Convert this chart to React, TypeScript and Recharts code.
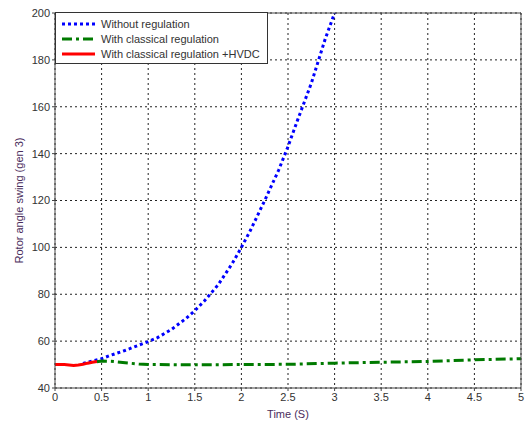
import { LineChart, Line, XAxis, YAxis, CartesianGrid } from 'recharts'

// time (s) / rotor angle (deg)
const tNoReg = [0.3, 0.4, 0.5, 0.6, 0.75, 0.9, 1.0, 1.1, 1.25, 1.4, 1.5, 1.6, 1.75, 1.9, 2.0, 2.1, 2.25, 2.4, 2.5, 2.6, 2.75, 2.9, 3.0]
const yNoReg = [50.5, 51.5, 52.5, 54, 56, 58.3, 59.8, 61.5, 65, 69.5, 73, 77, 84, 93, 100, 107.5, 120, 133, 143, 154, 170, 189, 200]

const tClassic = [0.45, 0.5, 0.6, 0.7, 0.8, 0.9, 1.0, 1.5, 2.0, 2.5, 3.0, 3.5, 4.0, 4.5, 5.0]
const yClassic = [51.2, 51.5, 51.4, 51, 50.6, 50.2, 50, 49.9, 50, 50.1, 50.6, 51, 51.3, 52, 52.5]

const tHvdc = [0, 0.1, 0.2, 0.25, 0.3, 0.35, 0.4, 0.45]
const yHvdc = [50, 50, 49.6, 49.8, 50.1, 50.6, 51, 51.3]

const xTicks = [0, 0.5, 1, 1.5, 2, 2.5, 3, 3.5, 4, 4.5, 5]
const yTicks = [40, 60, 80, 100, 120, 140, 160, 180, 200]

const seriesNames = ['Without regulation', 'With classical regulation', 'With classical regulation +HVDC']

const zip = (t: number[], y: number[]) => t.map((x, i) => ({ t: x, v: y[i] }))

const noReg = zip(tNoReg, yNoReg)
const classic = zip(tClassic, yClassic)
const hvdc = zip(tHvdc, yHvdc)

const font = 'Liberation Sans, Arial, sans-serif'
const tickStyle = { fontSize: 11, fill: '#333', fontFamily: font }
const labelColor = '#4a2d5c'

const legendItems = [
  { name: seriesNames[0], color: '#0000ff', dash: '3 3' },
  { name: seriesNames[1], color: '#007a00', dash: '10 4 3 4' },
  { name: seriesNames[2], color: '#ff0000', dash: undefined },
]

function LegendBox() {
  return (
    <div style={{ position: 'absolute', left: 55, top: 12, width: 213, height: 52, border: '1px solid #333', background: '#fff', boxSizing: 'border-box', paddingTop: 3 }}>
      {legendItems.map((it) => (
        <div key={it.name} style={{ display: 'flex', alignItems: 'center', height: 15, fontSize: 11, fontFamily: font, color: '#333' }}>
          <svg width={39} height={10} style={{ marginLeft: 6 }}>
            <line x1={0} y1={5} x2={33} y2={5} stroke={it.color} strokeWidth={3} strokeDasharray={it.dash} />
          </svg>
          <span>{it.name}</span>
        </div>
      ))}
    </div>
  )
}

export default function App() {
  return (
    <div style={{ position: 'absolute', left: 0, top: 0, width: 529, height: 421, background: '#fff' }}>
      <LineChart width={529} height={421} margin={{ top: 12, right: 7, left: 0, bottom: 0 }}>
        <CartesianGrid xAxisId="b" yAxisId="l" stroke="#222" strokeDasharray="2 3" strokeWidth={1} />
        <XAxis
          xAxisId="b" type="number" dataKey="t" domain={[0, 5]} ticks={xTicks} allowDataOverflow
          tick={tickStyle} tickSize={3} stroke="#444" height={33}
          label={{ value: 'Time (S)', position: 'insideBottom', offset: 3, fill: labelColor, fontSize: 11, fontFamily: font }}
        />
        <XAxis xAxisId="top" orientation="top" type="number" domain={[0, 5]} tick={false} tickLine={false} stroke="#444" height={1} />
        <YAxis
          yAxisId="l" type="number" domain={[40, 200]} ticks={yTicks} allowDataOverflow
          tick={tickStyle} tickSize={3} stroke="#444" width={55}
          label={{ value: 'Rotor angle swing (gen 3)', angle: -90, position: 'insideLeft', offset: 19, fill: labelColor, fontSize: 11, fontFamily: font, style: { textAnchor: 'middle' } }}
        />
        <YAxis yAxisId="r" orientation="right" type="number" domain={[40, 200]} tick={false} tickLine={false} stroke="#444" width={1} />
        <Line xAxisId="b" yAxisId="l" data={noReg} dataKey="v" name={seriesNames[0]} stroke="#0000ff" strokeWidth={3} strokeDasharray="3 3" dot={false} isAnimationActive={false} />
        <Line xAxisId="b" yAxisId="l" data={classic} dataKey="v" name={seriesNames[1]} stroke="#007a00" strokeWidth={3} strokeDasharray="10 4 3 4" dot={false} isAnimationActive={false} />
        <Line xAxisId="b" yAxisId="l" data={hvdc} dataKey="v" name={seriesNames[2]} stroke="#ff0000" strokeWidth={3} dot={false} isAnimationActive={false} />
      </LineChart>
      <LegendBox />
    </div>
  )
}
